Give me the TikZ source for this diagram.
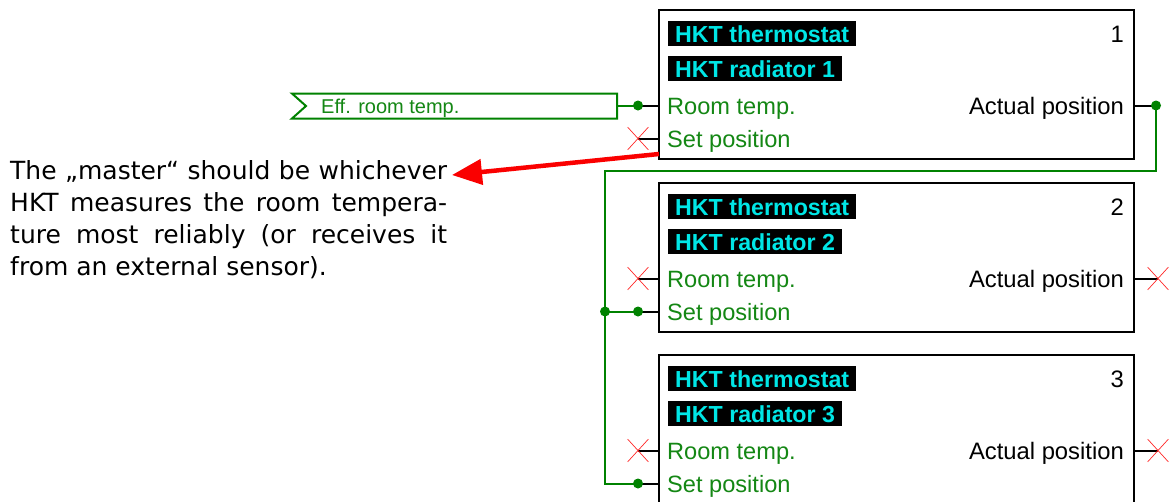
\documentclass[tikz,border=0pt]{standalone}
\usepackage{fontspec}
\setmainfont{Liberation Sans}
\newfontfamily\parafont{DejaVu Sans}
\usetikzlibrary{arrows.meta,calc,shapes.misc}
\definecolor{wgreen}{RGB}{0,130,0}
\definecolor{tgreen}{RGB}{20,135,20}
\definecolor{lcyan}{RGB}{0,230,230}
\definecolor{xred}{RGB}{255,40,40}
\definecolor{ared}{RGB}{250,0,0}
\begin{document}
\begin{tikzpicture}[x=1pt,y=-1pt,
  fbox/.style={draw=black,line width=2.2pt,minimum width=475pt,minimum height=149pt,anchor=north west,inner sep=0pt,outer sep=0pt},
  tag/.style={fill=black,text=lcyan,font=\fontsize{23.2}{26}\selectfont\bfseries,anchor=west,inner xsep=7pt,inner ysep=4pt,text height=17pt,text depth=0pt},
  pinl/.style={text=tgreen,font=\fontsize{23.6}{26}\selectfont,anchor=west,inner sep=0pt,text height=17pt,text depth=0pt},
  outl/.style={text=black,font=\fontsize{23.8}{26}\selectfont,anchor=east,inner sep=0pt,text height=17pt,text depth=0pt},
  stub/.style={draw=black,line width=2pt},
  wire/.style={draw=wgreen,line width=2pt},
  jdot/.style={circle,fill=wgreen,inner sep=0pt,minimum size=10pt},
  nox/.style={draw=xred,cross out,line width=0.7pt,minimum width=20pt,minimum height=22pt,inner sep=0pt},
  efft/.style={text=tgreen,font=\fontsize{20}{22}\selectfont,anchor=west,inner sep=0pt,text height=14pt,text depth=0pt},
  para/.style={anchor=north west,inner sep=0pt,text width=437pt,align=justify,font=\parafont\fontsize{25}{32}\selectfont},
  redarrow/.style={draw=ared,line width=4.5pt,-{Triangle[length=30pt,width=25pt]}},
]
\clip (0,0) rectangle (1175,501);
\fill[white] (0,0) rectangle (1175,501);

% function boxes
\foreach \i/\t in {1/10,2/183,3/355}{
  \node[fbox] (b\i) at (659,\t) {};
  \node[tag] (th\i) at (668,\t+23.5) {HKT thermostat};
  \node[tag] (rad\i) at (668,\t+58.5) {HKT radiator \i};
  \node[outl] (num\i) at (1124,\t+23.5) {\i};
  \node[pinl] (rt\i) at (667,\t+95.5) {Room temp.};
  \node[pinl] (sp\i) at (667,\t+128.5) {Set position};
  \node[outl] (ap\i) at (1124,\t+95.5) {Actual position};
  \coordinate (rin\i) at (659,\t+95.5);
  \coordinate (rtip\i) at (638,\t+95.5);
  \coordinate (sin\i) at (659,\t+128.5);
  \coordinate (stip\i) at (638,\t+128.5);
  \coordinate (aout\i) at (1134,\t+95.5);
  \draw[stub] (rin\i) -- (rtip\i);
  \draw[stub] (sin\i) -- (stip\i);
}
% output stubs
\coordinate (atip1) at (1156,105.5);
\coordinate (atip2) at (1158,278.5);
\coordinate (atip3) at (1158,450.5);
\draw[stub] (aout1) -- (atip1);
\draw[stub] (aout2) -- (atip2);
\draw[stub] (aout3) -- (atip3);

% unconnected pins
\node[nox] (x1) at (stip1) {};
\node[nox] (x2) at (rtip2) {};
\node[nox] (x3) at (rtip3) {};
\node[nox] (x4) at (atip2) {};
\node[nox] (x5) at (atip3) {};

% Eff. room temp. flag
\coordinate (f1) at (292,93.5);
\coordinate (f2) at (617,93.5);
\coordinate (f3) at (617,118.5);
\coordinate (f4) at (292,118.5);
\coordinate (f5) at (306,106);
\coordinate (effe) at (617,105.5);
\draw[wire] (f1) -- (f2) -- (f3) -- (f4) -- (f5) -- cycle;
\node[efft] (eff) at (321,106) {Eff. room temp.};

% green wiring
\coordinate (c1) at (1156,171);
\coordinate (c2) at (605,171);
\coordinate (jn) at (605,311.5);
\draw[wire] (effe) -- (rtip1);
\draw[wire] (atip1) -- (c1) -- (c2) |- (stip3);
\draw[wire] (jn) -- (stip2);
\node[jdot] (d1) at (rtip1) {};
\node[jdot] (d2) at (atip1) {};
\node[jdot] (d3) at (jn) {};
\node[jdot] (d4) at (stip2) {};
\node[jdot] (d5) at (stip3) {};

% note text and arrow
\node[para] (note) at (10,160) {The „master“ should be whichever\linebreak HKT measures the room tempera-\linebreak ture most reliably (or receives it\linebreak from an external sensor).};
\coordinate (ra) at (659,154);
\coordinate (rb) at (452,175);
\draw[redarrow] (ra) -- (rb);
\end{tikzpicture}
\end{document}
